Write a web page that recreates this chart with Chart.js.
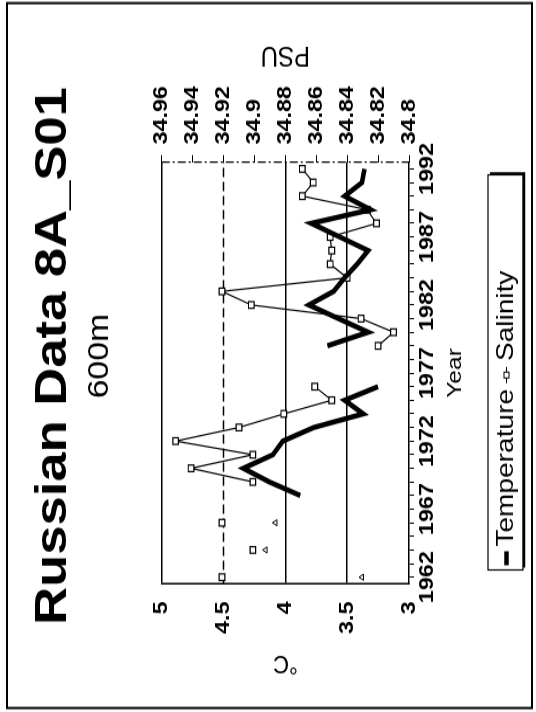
<!DOCTYPE html>
<html>
<head>
<meta charset="utf-8">
<script src="https://cdn.jsdelivr.net/npm/chart.js@4.4.1/dist/chart.umd.min.js"></script>
<style>
  html, body { margin: 0; padding: 0; background: #fff; overflow: hidden; }
  /* chart is drawn landscape, then turned a quarter turn like the scanned page */
  #wrap { position: absolute; left: 0; top: 0; width: 609px; height: 536px;
          transform-origin: 0 0; transform: translate(0, 712px) rotate(-90deg) scale(1.169, 1); }
</style>
</head>
<body>
<div id="wrap"><canvas id="chart" width="609" height="536"></canvas></div>
<script>
// data
const years = [1962, 1963, 1964, 1965, 1966, 1967, 1968, 1969, 1970, 1971, 1972,
               1973, 1974, 1975, 1976, 1977, 1978, 1979, 1980, 1981, 1982,
               1983, 1984, 1985, 1986, 1987, 1988, 1989, 1990, 1991, 1992];
const yearLabels = [1962, 1967, 1972, 1977, 1982, 1987, 1992];
const temperature = [3.38, null, 4.16, null, 4.08, null, 3.88, 4.13, 4.34, 4.10, 4.02,
                     3.77, 3.37, 3.52, 3.25, null, null, 3.66, 3.33, 3.57, 3.81,
                     3.61, 3.52, 3.42, 3.33, 3.56, 3.79, 3.31, 3.52, 3.38, 3.36];
const salinity = [34.921, null, 34.901, null, 34.921, null, null, 34.901, 34.941, 34.901, 34.951,
                  34.910, 34.881, 34.850, 34.861, null, null, 34.820, 34.810, 34.831, 34.902,
                  34.921, 34.840, 34.851, 34.850, 34.851, 34.821, 34.827, 34.869, 34.862, 34.869];
const tempTicks = [3, 3.5, 4, 4.5, 5];
const psuTicks = [34.8, 34.82, 34.84, 34.86, 34.88, 34.9, 34.92, 34.94, 34.96];

Chart.defaults.font.family = '"Liberation Sans", Arial, sans-serif';
Chart.defaults.color = '#000';

function isolated(ctx) {
    const d = ctx.dataset.data, i = ctx.dataIndex;
    return d[i] != null && d[i - 1] == null && d[i + 1] == null;
}

const decor = {
    id: 'decor',
    beforeDraw(chart) {
        const ctx = chart.ctx;
        ctx.save();
        ctx.fillStyle = '#fff';
        ctx.fillRect(0, 0, chart.width, chart.height);
        ctx.restore();
    },
    beforeDatasetsDraw(chart) {
        const { ctx, chartArea: a, scales } = chart;
        ctx.save();
        ctx.strokeStyle = '#000';
        // dashed line at 4.5 °C
        const yy = scales.y.getPixelForValue(4.5);
        ctx.lineWidth = 1.5;
        ctx.setLineDash([8, 4]);
        ctx.beginPath(); ctx.moveTo(a.left, yy); ctx.lineTo(a.right, yy); ctx.stroke();
        // dash-dot salinity axis line
        ctx.lineWidth = 1.2;
        ctx.setLineDash([8, 3, 2, 3]);
        ctx.beginPath(); ctx.moveTo(a.right, a.top); ctx.lineTo(a.right, a.bottom); ctx.stroke();
        ctx.restore();
    },
    afterDraw(chart) {
        const { ctx, chartArea: a } = chart;
        ctx.save();
        ctx.fillStyle = '#000';
        ctx.strokeStyle = '#000';

        // right axis title, turned the same way as the left one
        ctx.save();
        ctx.translate(562, (a.top + a.bottom) / 2);
        ctx.rotate(-Math.PI / 2);
        ctx.font = '24px "Liberation Sans", Arial, sans-serif';
        ctx.textAlign = 'center';
        ctx.textBaseline = 'middle';
        ctx.fillText('PSU', 0, 0);
        ctx.restore();

        // legend box
        const bx = 121.5, by = 488, bw = 338, bh = 35, my = by + bh / 2 + 1;
        ctx.lineWidth = 1.2;
        ctx.strokeRect(bx, by, bw, bh);
        ctx.lineWidth = 2.5;
        ctx.beginPath();
        ctx.moveTo(bx + 2, by + bh + 1); ctx.lineTo(bx + bw + 1, by + bh + 1); ctx.lineTo(bx + bw + 1, by + 2);
        ctx.stroke();

        ctx.lineWidth = 4.5;
        ctx.beginPath(); ctx.moveTo(bx + 4, my); ctx.lineTo(bx + 16, my); ctx.stroke();
        ctx.font = '24px "Liberation Sans", Arial, sans-serif';
        ctx.textBaseline = 'middle';
        ctx.textAlign = 'left';
        let tx = bx + 20;
        ctx.fillText('Temperature', tx, my);
        tx += ctx.measureText('Temperature').width + 5;
        ctx.lineWidth = 1;
        ctx.beginPath(); ctx.moveTo(tx, my); ctx.lineTo(tx + 14, my); ctx.stroke();
        ctx.fillStyle = '#fff';
        ctx.fillRect(tx + 4.5, my - 2.5, 5, 5);
        ctx.strokeRect(tx + 4.5, my - 2.5, 5, 5);
        ctx.fillStyle = '#000';
        tx += 19;
        ctx.fillText('Salinity', tx, my);

        // page frame
        ctx.lineWidth = 2;
        ctx.strokeRect(3.4, 7, 603, 525);
        ctx.restore();
    }
};

new Chart(document.getElementById('chart'), {
    type: 'line',
    data: {
        labels: years.map(String),
        datasets: [
            {
                label: 'Temperature',
                data: temperature,
                yAxisID: 'y',
                borderColor: '#000',
                borderWidth: 4.5,
                borderJoinStyle: 'miter',
                spanGaps: false,
                pointStyle: 'triangle',
                pointRadius: ctx => isolated(ctx) ? 3 : 0,
                pointBackgroundColor: '#fff',
                pointBorderColor: '#000',
                pointBorderWidth: 1
            },
            {
                label: 'Salinity',
                data: salinity,
                yAxisID: 'y1',
                borderColor: '#000',
                borderWidth: 1.2,
                spanGaps: false,
                pointStyle: 'rect',
                pointRadius: 4,
                pointBackgroundColor: '#fff',
                pointBorderColor: '#000',
                pointBorderWidth: 1.2
            }
        ]
    },
    options: {
        responsive: false,
        animation: false,
        layout: { padding: { left: 0, right: 0, top: 0, bottom: 56 } },
        plugins: {
            legend: { display: false },
            tooltip: { enabled: false },
            title: {
                display: true,
                text: 'Russian Data 8A_S01',
                color: '#000',
                font: { size: 45, weight: 'bold' },
                padding: { top: 27, bottom: 0 }
            },
            subtitle: {
                display: true,
                text: '600m',
                color: '#000',
                font: { size: 29 },
                padding: { top: 2, bottom: 43.9 }
            }
        },
        scales: {
            x: {
                type: 'category',
                offset: true,
                grid: { drawOnChartArea: false, tickLength: 5, color: '#000' },
                border: { display: true, color: '#000', width: 1.5 },
                ticks: {
                    autoSkip: false, maxRotation: 0, minRotation: 0, padding: 1,
                    font: { size: 20, weight: 'bold' },
                    callback: (v, i) => yearLabels.includes(years[i]) ? String(years[i]) : ''
                },
                title: { display: true, text: 'Year', font: { size: 21 }, padding: { top: 0, bottom: 12 } },
                afterFit: s => { s.height = 71; }
            },
            y: {
                position: 'left',
                min: 3, max: 5,
                afterBuildTicks: s => { s.ticks = tempTicks.map(v => ({ value: v })); },
                grid: {
                    drawTicks: false,
                    lineWidth: 1.4,
                    color: ctx => (ctx.tick && [3.5, 4, 5].includes(ctx.tick.value)) ? '#000' : 'rgba(0,0,0,0)'
                },
                border: { display: true, color: '#000', width: 1.5 },
                ticks: { padding: 15, font: { size: 20, weight: 'bold' }, callback: v => String(v) },
                title: { display: true, text: '°C', font: { size: 22 }, padding: { top: 29, bottom: 0 } },
                afterFit: s => { s.width = 109.5; }
            },
            y1: {
                position: 'right',
                min: 34.8, max: 34.96,
                afterBuildTicks: s => { s.ticks = psuTicks.map(v => ({ value: v })); },
                grid: { drawOnChartArea: false, tickLength: 6, color: '#000' },
                border: { display: false },
                ticks: { padding: 9, font: { size: 20, weight: 'bold' }, callback: v => String(+v.toFixed(2)) },
                afterFit: s => { s.width = 138.6; }
            }
        }
    },
    plugins: [decor]
});
</script>
</body>
</html>
